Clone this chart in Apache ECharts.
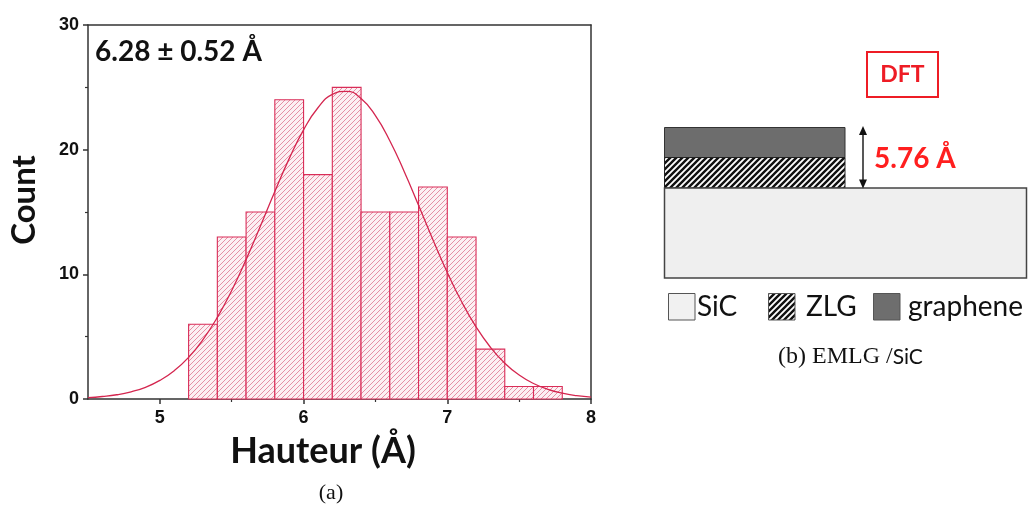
<!DOCTYPE html>
<html>
<head>
<meta charset="utf-8">
<script src="https://cdn.jsdelivr.net/npm/echarts@6/dist/echarts.min.js"></script>
<style>
html,body{margin:0;padding:0;background:#fff;}
#chart{width:1029px;height:505px;}
</style>
</head>
<body>
<div id="chart"></div>
<script>
// ---- Data ----
const binEdges = [5.2, 5.4, 5.6, 5.8, 6.0, 6.2, 6.4, 6.6, 6.8, 7.0, 7.2, 7.4, 7.6, 7.8];
const counts   = [6, 13, 15, 24, 18, 25, 15, 15, 17, 13, 4, 1, 1];
const fitX = [4.5,4.6,4.7,4.8,4.9,5.0,5.1,5.2,5.3,5.4,5.5,5.6,5.7,5.8,5.9,6.0,6.1,6.2,6.3,6.4,6.5,6.6,6.7,6.8,6.9,7.0,7.1,7.2,7.3,7.4,7.5,7.6,7.7,7.8,7.9,8.0];
const fitY = [0.11,0.20,0.34,0.58,0.94,1.49,2.27,3.34,4.76,6.55,8.70,11.18,13.87,16.64,19.28,21.59,23.36,24.43,24.68,24.10,22.73,20.72,18.25,15.54,12.78,10.15,7.80,5.79,4.15,2.87,1.92,1.24,0.78,0.47,0.27,0.15];
const xMajorTicks = [5, 6, 7, 8];
const xMinorTicks = [5.5, 6.5, 7.5];
const statText = '6.28 ± 0.52 Å';
const dftValue = '5.76 Å';
const legendNames = ['SiC', 'ZLG', 'graphene'];

// ---- Patterns ----
function makeHatch(size, lw, color, bg) {
  const c = document.createElement('canvas');
  c.width = size; c.height = size;
  const g = c.getContext('2d');
  g.fillStyle = bg; g.fillRect(0, 0, size, size);
  g.strokeStyle = color; g.lineWidth = lw; g.lineCap = 'square';
  g.beginPath();
  g.moveTo(0, size); g.lineTo(size, 0);
  g.moveTo(size * -0.5, size * 0.5); g.lineTo(size * 0.5, size * -0.5);
  g.moveTo(size * 0.5, size * 1.5); g.lineTo(size * 1.5, size * 0.5);
  g.stroke();
  return c;
}
const barHatch = makeHatch(5, 1, '#e58fa5', '#fcf0f3');
const zlgHatch = makeHatch(6, 2.4, '#111', '#fff');

const crimson = '#d92d58';
const axisColor = '#333';

const barData = counts.map((c, i) => [binEdges[i], binEdges[i + 1], c]);
const fitData = fitX.map((x, i) => [x, fitY[i]]);

const chart = echarts.init(document.getElementById('chart'), null, {renderer: 'canvas'});

const option = {
  backgroundColor: '#fff',
  animation: false,
  grid: {left: 88, top: 25, width: 503, height: 374},
  xAxis: [
    {
      type: 'value', min: 4.5, max: 8, position: 'bottom',
      axisLine: {show: true, onZero: false, lineStyle: {color: axisColor, width: 1.5}},
      axisTick: {show: true, inside: false, length: 5, customValues: xMajorTicks, lineStyle: {color: axisColor, width: 1.5}},
      axisLabel: {show: true, customValues: xMajorTicks, margin: 10, color: '#111', fontFamily: 'Liberation Sans', fontWeight: 'bold', fontSize: 18},
      splitLine: {show: false}
    },
    {
      type: 'value', min: 4.5, max: 8, position: 'bottom',
      axisLine: {show: false},
      axisTick: {show: true, inside: false, length: 3, customValues: xMinorTicks, lineStyle: {color: axisColor, width: 1.2}},
      axisLabel: {show: false},
      splitLine: {show: false}
    },
    {
      type: 'value', min: 4.5, max: 8, position: 'top',
      axisLine: {show: true, onZero: false, lineStyle: {color: axisColor, width: 1.5}},
      axisTick: {show: false}, axisLabel: {show: false}, splitLine: {show: false}
    }
  ],
  yAxis: [
    {
      type: 'value', min: 0, max: 30, interval: 10, position: 'left',
      axisLine: {show: true, onZero: false, lineStyle: {color: axisColor, width: 1.5}},
      axisTick: {show: true, inside: false, length: 5, lineStyle: {color: axisColor, width: 1.5}},
      minorTick: {show: true, splitNumber: 2, length: 3, lineStyle: {color: axisColor, width: 1.2}},
      axisLabel: {margin: 9, color: '#111', fontFamily: 'Liberation Sans', fontWeight: 'bold', fontSize: 18},
      splitLine: {show: false}
    },
    {
      type: 'value', min: 0, max: 30, position: 'right',
      axisLine: {show: true, onZero: false, lineStyle: {color: axisColor, width: 1.5}},
      axisTick: {show: false}, axisLabel: {show: false}, splitLine: {show: false}
    }
  ],
  series: [
    {
      type: 'custom',
      xAxisIndex: 0, yAxisIndex: 0,
      data: barData,
      renderItem: function (params, api) {
        const p0 = api.coord([api.value(0), 0]);
        const p1 = api.coord([api.value(1), api.value(2)]);
        return {
          type: 'rect',
          shape: {x: p0[0], y: p1[1], width: p1[0] - p0[0], height: p0[1] - p1[1]},
          style: {fill: {image: barHatch, repeat: 'repeat'}, stroke: crimson, lineWidth: 1.1}
        };
      },
      z: 2
    },
    {
      type: 'line',
      xAxisIndex: 0, yAxisIndex: 0,
      data: fitData,
      smooth: true,
      showSymbol: false,
      lineStyle: {color: '#d4264f', width: 1.3},
      z: 3
    }
  ],
  graphic: [
    // left panel texts
    {type: 'text', x: 95, y: 52, z: 10, style: {text: statText, fill: '#111', font: 'bold 28px Lato', textVerticalAlign: 'middle'}},
    {type: 'text', x: 323, y: 451, z: 10, style: {text: 'Hauteur (Å)', fill: '#111', font: 'bold 36px Lato', textAlign: 'center', textVerticalAlign: 'middle'}},
    {type: 'text', x: 24, y: 200, rotation: Math.PI / 2, z: 10, style: {text: 'Count', fill: '#111', font: 'bold 33px Lato', textAlign: 'center', textVerticalAlign: 'middle'}},
    {type: 'text', x: 331, y: 493, z: 10, style: {text: '(a)', fill: '#111', font: '22px "Liberation Serif"', textAlign: 'center', textVerticalAlign: 'middle'}},
    // right panel schematic
    {type: 'rect', shape: {x: 867, y: 52, width: 71, height: 45}, style: {fill: '#fff', stroke: '#ee1c25', lineWidth: 2}},
    {type: 'text', x: 902.5, y: 75, style: {text: 'DFT', fill: '#ee1c25', font: 'bold 23px Lato', textAlign: 'center', textVerticalAlign: 'middle'}},
    {type: 'rect', shape: {x: 664.5, y: 127.5, width: 180.5, height: 30}, style: {fill: '#6d6d6d', stroke: '#333', lineWidth: 1}},
    {type: 'rect', shape: {x: 664.5, y: 157.5, width: 180.5, height: 30.5}, style: {fill: {image: zlgHatch, repeat: 'repeat'}, stroke: '#222', lineWidth: 1}},
    {type: 'rect', shape: {x: 664.5, y: 188, width: 362, height: 90}, style: {fill: '#efefef', stroke: '#444', lineWidth: 1.5}},
    {type: 'line', shape: {x1: 863, y1: 132, x2: 863, y2: 183}, style: {stroke: '#111', lineWidth: 1.4}},
    {type: 'polygon', shape: {points: [[863, 126], [859, 135], [867, 135]]}, style: {fill: '#111'}},
    {type: 'polygon', shape: {points: [[863, 188.5], [859, 179.5], [867, 179.5]]}, style: {fill: '#111'}},
    {type: 'text', x: 874, y: 159, style: {text: dftValue, fill: '#ff1f1f', font: 'bold 28px Lato', textVerticalAlign: 'middle'}},
    // legend
    {type: 'rect', shape: {x: 668.5, y: 293.5, width: 26.5, height: 26.5}, style: {fill: '#f1f1f1', stroke: '#555', lineWidth: 1}},
    {type: 'text', x: 697, y: 307, style: {text: legendNames[0], fill: '#111', font: '28px Lato', textVerticalAlign: 'middle'}},
    {type: 'rect', shape: {x: 768.5, y: 293.5, width: 26.5, height: 26.5}, style: {fill: {image: zlgHatch, repeat: 'repeat'}, stroke: '#555', lineWidth: 1}},
    {type: 'text', x: 806, y: 307, style: {text: legendNames[1], fill: '#111', font: '28px Lato', textVerticalAlign: 'middle'}},
    {type: 'rect', shape: {x: 873.5, y: 293.5, width: 26.5, height: 26.5}, style: {fill: '#6e6e6e', stroke: '#555', lineWidth: 1}},
    {type: 'text', x: 908, y: 307, style: {text: legendNames[2], fill: '#111', font: '28px Lato', textVerticalAlign: 'middle'}},
    // caption
    {type: 'text', x: 778, y: 357, style: {
      text: '{a|(b) EMLG /}{b|SiC}',
      textVerticalAlign: 'middle',
      rich: {
        a: {fontFamily: 'Liberation Serif', fontSize: 24, fill: '#111', color: '#111'},
        b: {fontFamily: 'Lato', fontSize: 21, fill: '#111', color: '#111'}
      }
    }}
  ]
};
chart.setOption(option);
</script>
</body>
</html>
